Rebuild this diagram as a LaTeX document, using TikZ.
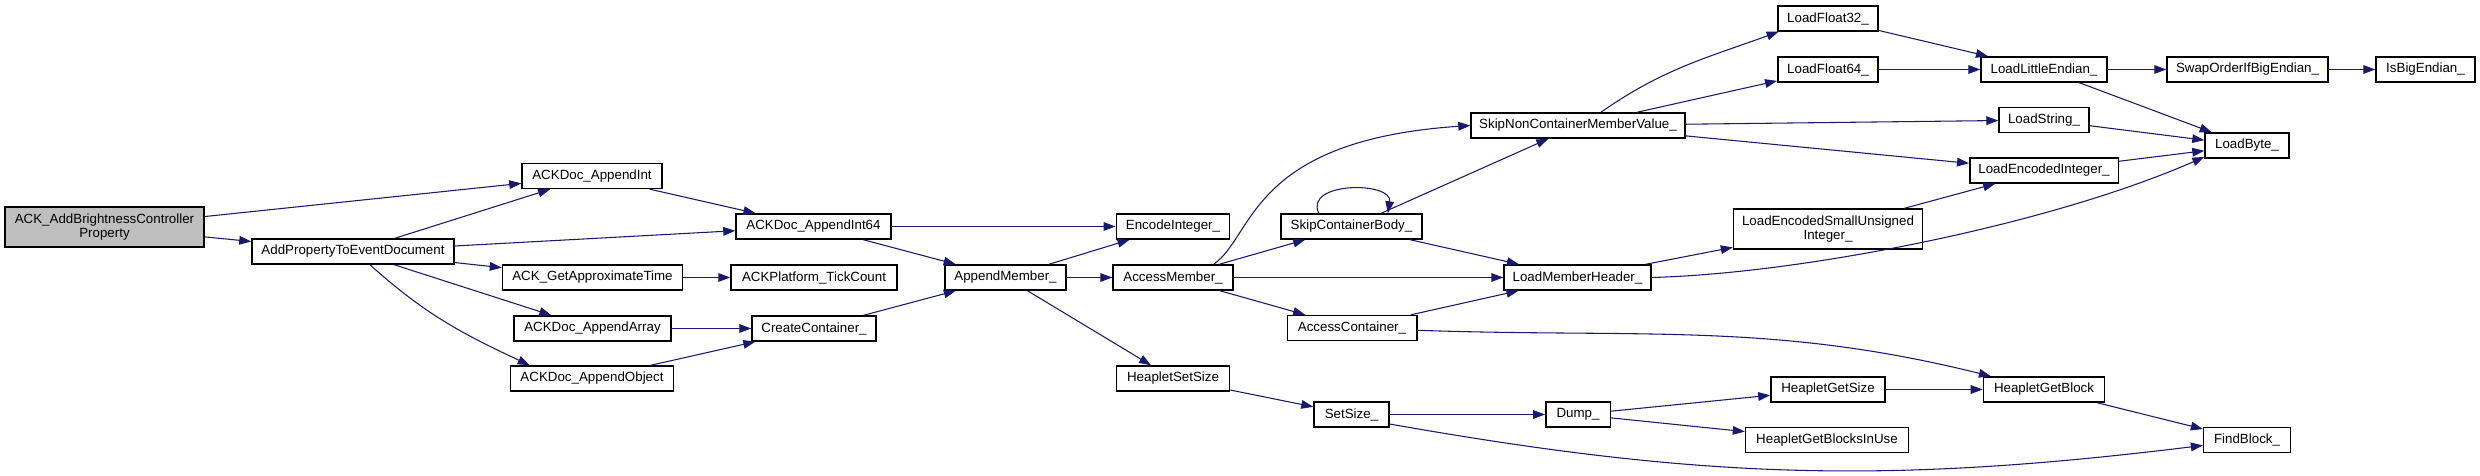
\documentclass[tikz,border=0pt]{standalone}
\usepackage{fontspec}
\setmainfont{Liberation Sans}
\usepackage{xcolor}
\usetikzlibrary{arrows.meta}
\definecolor{callblue}{HTML}{191970}
\tikzset{
  fn/.style={draw, fill=white, line width=1.1pt, inner xsep=0pt, inner ysep=0pt,
    minimum height=18.75pt, align=center, font=\fontsize{10}{10.5}\selectfont},
  w/.style={minimum width=#1*0.75pt},
  root/.style={fn, fill=black!25},
  call/.style={draw=callblue, line width=0.8pt, -{Triangle[length=9pt,width=6.5pt]}},
  every picture/.style={line cap=round}
}

\begin{document}
\begin{tikzpicture}[x=0.75pt, y=0.75pt]
  \useasboundingbox (0,0) rectangle (2480,475);

  % entry and first callers
  \node[root, w=199, minimum height=30pt] (ackAdd) at (104.5,248) {ACK\_AddBrightnessController\\Property};
  \node[fn, w=202] (addProp) at (353,223.5) {AddPropertyToEventDocument};
  \node[fn, w=140] (appendInt) at (592,299) {ACKDoc\_AppendInt};
  \node[fn, w=180] (getTime) at (592.5,197.5) {ACK\_GetApproximateTime};
  \node[fn, w=157] (appendArray) at (592.5,146.5) {ACKDoc\_AppendArray};
  \node[fn, w=162.5] (appendObject) at (592,96.5) {ACKDoc\_AppendObject};
  \node[fn, w=155] (appendInt64) at (813.5,248.5) {ACKDoc\_AppendInt64};
  \node[fn, w=166] (tickCount) at (814,197.5) {ACKPlatform\_TickCount};
  \node[fn, w=124] (createCont) at (814,146.5) {CreateContainer\_};
  \node[fn, w=121] (appendMember) at (1005.5,197.5) {AppendMember\_};

  % member access
  \node[fn, w=113.5] (encodeInt) at (1173,248.5) {EncodeInteger\_};
  \node[fn, w=120] (accessMember) at (1173,197.5) {AccessMember\_};
  \node[fn, w=113.5] (heapSetSize) at (1173,96.5) {HeapletSetSize};
  \node[fn, w=141] (skipBody) at (1351.5,248.5) {SkipContainerBody\_};
  \node[fn, w=129.5] (accessCont) at (1352,147) {AccessContainer\_};
  \node[fn, w=75] (setSize) at (1351.5,60.5) {SetSize\_};
  \node[fn, w=214] (skipNonCont) at (1578,349.5) {SkipNonContainerMemberValue\_};
  \node[fn, w=147] (loadMemberHdr) at (1577.5,197.5) {LoadMemberHeader\_};
  \node[fn, w=64.5] (dump) at (1578,60.5) {Dump\_};

  % loaders and heaplet
  \node[fn, w=100.4] (loadFloat32) at (1828,456.5) {LoadFloat32\_};
  \node[fn, w=100.4] (loadFloat64) at (1828,405.5) {LoadFloat64\_};
  \node[fn, w=189, minimum height=30pt] (loadSmallUns) at (1828,246) {LoadEncodedSmallUnsigned\\Integer\_};
  \node[fn, w=114.3] (heapGetSize) at (1828,85.5) {HeapletGetSize};
  \node[fn, w=163] (heapBlocksInUse) at (1827,35) {HeapletGetBlocksInUse};
  \node[fn, w=126] (loadLE) at (2044,405.5) {LoadLittleEndian\_};
  \node[fn, w=90] (loadString) at (2044,355) {LoadString\_};
  \node[fn, w=148.5] (loadEncInt) at (2044,304.5) {LoadEncodedInteger\_};
  \node[fn, w=121.2] (heapGetBlock) at (2044,85.5) {HeapletGetBlock};
  \node[fn, w=161] (swapOrder) at (2247.5,405.5) {SwapOrderIfBigEndian\_};
  \node[fn, w=84] (loadByte) at (2247,329.5) {LoadByte\_};
  \node[fn, w=86.8] (findBlock) at (2247,35) {FindBlock\_};
  \node[fn, w=99] (isBigEndian) at (2425.5,405.5) {IsBigEndian\_};

  % calls
  \draw[call] (ackAdd) -- (appendInt);
  \draw[call] (ackAdd) -- (addProp);
  \draw[call] (addProp) -- (appendInt);
  \draw[call] (addProp) -- (appendInt64);
  \draw[call] (addProp) -- (getTime);
  \draw[call] (addProp) -- (appendArray);
  \draw[call] (addProp.-38) to[out=-42,in=155] (appendObject.168);
  \draw[call] (appendInt) -- (appendInt64);
  \draw[call] (appendInt64) -- (encodeInt);
  \draw[call] (appendInt64) -- (appendMember);
  \draw[call] (getTime) -- (tickCount);
  \draw[call] (appendArray) -- (createCont);
  \draw[call] (appendObject) -- (createCont);
  \draw[call] (createCont) -- (appendMember);
  \draw[call] (appendMember) -- (encodeInt);
  \draw[call] (appendMember) -- (accessMember);
  \draw[call] (appendMember) -- (heapSetSize);
  \draw[call] (accessMember.18) .. controls +(41,29) and +(-221,-15) .. (skipNonCont.west);
  \draw[call] (accessMember) -- (skipBody);
  \draw[call] (accessMember) -- (loadMemberHdr);
  \draw[call] (accessMember) -- (accessCont);
  \draw[call] (skipBody.158) .. controls +(-15,32) and +(5,32) .. (skipBody.20);
  \draw[call] (skipBody) -- (skipNonCont);
  \draw[call] (skipBody) -- (loadMemberHdr);
  \draw[call] (accessCont) -- (loadMemberHdr);
  \draw[call] (accessCont) to[out=-2,in=166] (heapGetBlock.166);
  \draw[call] (skipNonCont.30) to[out=35,in=200] (loadFloat32.195);
  \draw[call] (skipNonCont) -- (loadFloat64);
  \draw[call] (skipNonCont) -- (loadString);
  \draw[call] (skipNonCont) -- (loadEncInt);
  \draw[call] (loadMemberHdr) -- (loadSmallUns);
  \draw[call] (loadMemberHdr.east) .. controls +(150,4) and +(-155,-68) .. (loadByte.195);
  \draw[call] (loadFloat32) -- (loadLE);
  \draw[call] (loadFloat64) -- (loadLE);
  \draw[call] (loadLE) -- (swapOrder);
  \draw[call] (loadLE) -- (loadByte);
  \draw[call] (swapOrder) -- (isBigEndian);
  \draw[call] (loadString) -- (loadByte);
  \draw[call] (loadEncInt) -- (loadByte);
  \draw[call] (loadSmallUns) -- (loadEncInt);
  \draw[call] (heapSetSize) -- (setSize);
  \draw[call] (setSize) -- (dump);
  \draw[call] (setSize.-14) to[out=-10,in=187] (findBlock.187);
  \draw[call] (dump) -- (heapGetSize);
  \draw[call] (dump) -- (heapBlocksInUse);
  \draw[call] (heapGetSize) -- (heapGetBlock);
  \draw[call] (heapGetBlock) -- (findBlock);
\end{tikzpicture}
\end{document}
